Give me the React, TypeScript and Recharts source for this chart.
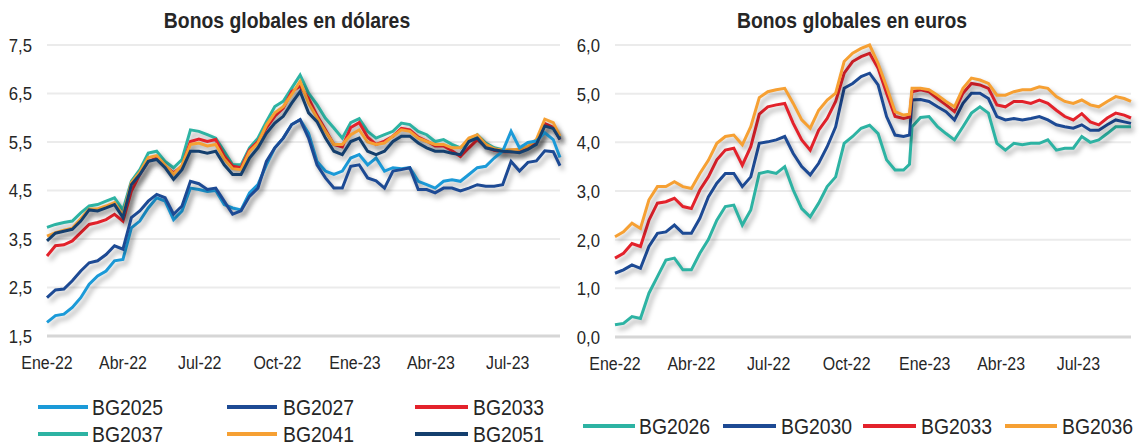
import React from 'react';
import { LineChart, Line, XAxis, YAxis, CartesianGrid } from 'recharts';

const FONT = "'Liberation Sans Narrow', 'Arial Narrow', 'Liberation Sans', Arial, sans-serif";

const tickDays = [0, 90, 181, 273, 365, 455, 546];
const tickLabels = ['Ene-22', 'Abr-22', 'Jul-22', 'Oct-22', 'Ene-23', 'Abr-23', 'Jul-23'];

const leftDays = [0,10,20,30,40,50,60,70,80,90,100,110,120,130,140,150,160,170,180,190,200,210,220,230,240,250,260,270,280,290,300,310,320,330,340,350,360,370,380,390,400,410,420,430,440,450,460,470,480,490,500,510,520,530,540,550,560,570,580,590,600,608];
const bg2025 = [1.78,1.92,1.95,2.09,2.29,2.57,2.74,2.84,3.05,3.08,3.73,3.87,4.14,4.35,4.28,3.90,4.08,4.55,4.52,4.48,4.50,4.21,4.14,4.10,4.45,4.62,5.03,5.38,5.58,5.86,5.96,5.68,5.10,4.90,4.83,4.90,5.17,5.24,5.03,5.17,4.90,4.97,4.95,4.97,4.69,4.62,4.55,4.69,4.72,4.69,4.83,4.97,5.00,5.17,5.31,5.72,5.38,5.49,5.52,5.69,5.55,5.18];
const bg2027 = [2.29,2.45,2.47,2.64,2.84,3.01,3.05,3.18,3.36,3.29,3.94,4.08,4.28,4.42,4.35,4.01,4.18,4.69,4.64,4.52,4.55,4.28,4.01,4.08,4.38,4.55,5.10,5.38,5.58,5.86,5.96,5.58,5.03,4.76,4.55,4.55,5.00,5.03,4.76,4.70,4.55,4.90,4.93,4.97,4.52,4.52,4.45,4.55,4.55,4.49,4.55,4.62,4.59,4.59,4.62,5.10,4.90,5.08,5.11,5.32,5.30,5.01];
const bg2033d = [3.15,3.36,3.38,3.46,3.63,3.80,3.84,3.90,4.01,3.87,4.49,4.83,5.10,5.17,5.00,4.86,5.00,5.51,5.56,5.51,5.55,5.21,5.00,4.97,5.34,5.51,5.79,6.03,6.20,6.54,6.65,6.40,6.05,5.75,5.45,5.40,5.80,5.90,5.60,5.45,5.52,5.62,5.78,5.75,5.60,5.52,5.42,5.42,5.32,5.20,5.38,5.55,5.40,5.33,5.30,5.30,5.30,5.38,5.50,5.88,5.80,5.55];
const bg2037 = [3.74,3.80,3.84,3.87,4.04,4.18,4.21,4.28,4.35,4.10,4.69,4.93,5.27,5.31,5.10,4.97,5.14,5.75,5.72,5.65,5.58,5.31,5.03,5.03,5.38,5.58,5.92,6.23,6.34,6.61,6.88,6.51,6.27,5.99,5.79,5.58,5.90,5.98,5.72,5.58,5.65,5.72,5.89,5.86,5.72,5.65,5.51,5.55,5.45,5.38,5.51,5.65,5.48,5.38,5.34,5.30,5.32,5.40,5.49,5.85,5.78,5.58];
const bg2041 = [3.56,3.63,3.68,3.72,3.92,4.12,4.12,4.18,4.25,3.98,4.66,4.88,5.18,5.22,5.02,4.84,5.02,5.45,5.48,5.42,5.45,5.15,4.95,4.93,5.30,5.48,5.85,6.10,6.23,6.48,6.75,6.30,6.00,5.72,5.45,5.45,5.65,5.75,5.50,5.45,5.48,5.62,5.75,5.72,5.58,5.51,5.45,5.45,5.38,5.38,5.58,5.65,5.45,5.36,5.33,5.34,5.35,5.42,5.55,5.97,5.90,5.62];
const bg2051 = [3.46,3.62,3.66,3.70,3.87,4.10,4.08,4.14,4.21,3.94,4.62,4.83,5.10,5.14,4.97,4.73,4.93,5.31,5.31,5.27,5.31,5.03,4.83,4.83,5.17,5.38,5.68,5.89,6.03,6.30,6.54,6.10,5.92,5.58,5.31,5.24,5.51,5.58,5.31,5.24,5.31,5.51,5.62,5.62,5.48,5.38,5.31,5.31,5.27,5.24,5.51,5.58,5.38,5.34,5.31,5.30,5.28,5.35,5.45,5.83,5.78,5.55];

const rightDays = [0,10,20,30,40,50,60,70,80,90,100,110,120,130,140,150,160,170,180,190,200,210,220,230,240,250,260,270,280,290,300,310,320,330,340,347,350,360,370,380,390,400,410,420,430,440,450,460,470,480,490,500,510,520,530,540,550,560,570,580,590,600,608];
const bg2026 = [0.25,0.28,0.42,0.38,0.90,1.24,1.58,1.62,1.38,1.38,1.72,2.00,2.40,2.68,2.71,2.30,2.61,3.36,3.40,3.36,3.50,3.02,2.64,2.47,2.75,3.09,3.29,3.98,4.12,4.29,4.35,4.18,3.64,3.43,3.43,3.55,4.32,4.51,4.53,4.32,4.18,4.05,4.32,4.60,4.73,4.60,3.98,3.84,3.98,3.95,3.98,3.98,4.05,3.84,3.88,3.88,4.12,4.00,4.05,4.18,4.32,4.32,4.32];
const bg2030 = [1.31,1.38,1.48,1.41,1.86,2.13,2.16,2.30,2.13,2.13,2.44,2.88,3.16,3.36,3.36,3.09,3.29,3.98,4.01,4.05,4.12,3.77,3.50,3.33,3.57,3.91,4.32,5.11,5.21,5.35,5.42,5.18,4.53,4.15,4.12,4.15,4.87,4.88,4.84,4.73,4.63,4.46,4.80,5.01,5.01,4.90,4.53,4.46,4.49,4.46,4.49,4.53,4.46,4.36,4.32,4.29,4.36,4.25,4.25,4.36,4.46,4.42,4.39];
const bg2033e = [1.62,1.72,1.92,1.86,2.40,2.75,2.78,2.85,2.68,2.64,3.02,3.29,3.64,3.84,3.88,3.53,3.91,4.58,4.73,4.77,4.80,4.39,4.05,3.84,4.25,4.49,4.84,5.42,5.66,5.76,5.83,5.52,5.01,4.53,4.49,4.52,5.04,5.08,5.04,4.90,4.77,4.63,5.01,5.21,5.18,5.11,4.77,4.73,4.84,4.84,4.80,4.87,4.80,4.66,4.53,4.46,4.59,4.42,4.36,4.50,4.60,4.56,4.50];
const bg2036 = [2.06,2.16,2.34,2.23,2.82,3.09,3.09,3.19,3.09,3.05,3.36,3.63,3.98,4.12,4.15,3.95,4.32,4.92,5.04,5.08,5.11,4.80,4.46,4.29,4.66,4.87,5.01,5.66,5.83,5.93,6.00,5.62,5.14,4.63,4.56,4.58,5.11,5.11,5.08,4.97,4.84,4.73,5.11,5.32,5.28,5.21,4.97,4.97,5.04,5.08,5.08,5.14,5.11,4.94,4.84,4.80,4.87,4.77,4.73,4.84,4.94,4.90,4.84];

const leftTicks = [1.5, 2.5, 3.5, 4.5, 5.5, 6.5, 7.5];
const rightTicks = [0, 1, 2, 3, 4, 5, 6];

const C = {
  lightBlue: '#1b9ad8',
  darkBlue: '#1d4a94',
  red: '#e3222b',
  teal: '#2db3a3',
  orange: '#f6a033',
  navy: '#143f6e',
};

const leftSeries = [
  { key: 'BG2037', color: C.teal, values: bg2037 },
  { key: 'BG2033', color: C.red, values: bg2033d },
  { key: 'BG2041', color: C.orange, values: bg2041 },
  { key: 'BG2025', color: C.lightBlue, values: bg2025 },
  { key: 'BG2027', color: C.darkBlue, values: bg2027 },
  { key: 'BG2051', color: C.navy, values: bg2051 },
];
const rightSeries = [
  { key: 'BG2026', color: C.teal, values: bg2026 },
  { key: 'BG2030', color: C.darkBlue, values: bg2030 },
  { key: 'BG2033', color: C.red, values: bg2033e },
  { key: 'BG2036', color: C.orange, values: bg2036 },
];

const leftData = leftDays.map((d, i) => {
  const row: Record<string, number> = { d };
  leftSeries.forEach((s) => { row[s.key] = s.values[i]; });
  return row;
});
const rightData = rightDays.map((d, i) => {
  const row: Record<string, number> = { d };
  rightSeries.forEach((s) => { row[s.key] = s.values[i]; });
  return row;
});

const fmtY = (v: number) => v.toFixed(1).replace('.', ',');
const fmtX = (v: number) => tickLabels[tickDays.indexOf(v)] ?? '';

function NarrowText({ x, y, anchor = 'start', size, weight = 'normal', sx = 0.83, dy = '0.36em', children }: any) {
  return (
    <text transform={`translate(${x},${y}) scale(${sx},1)`} x={0} y={0} dy={dy} textAnchor={anchor}
      fontFamily={FONT} fontSize={size} fontWeight={weight} fill="#262626">{children}</text>
  );
}

const XTick = (p: any) => (
  <NarrowText x={p.x} y={p.y} anchor="middle" size={19} sx={0.84} dy="0.71em">{fmtX(p.payload.value)}</NarrowText>
);
const YTick = (p: any) => (
  <NarrowText x={p.x} y={p.y} anchor="end" size={19} sx={0.88} dy="0.36em">{fmtY(p.payload.value)}</NarrowText>
);

type LegendItem = { label: string; color: string; x: number; y: number; textX: number; lineEnd: number };

const leftLegend: LegendItem[] = [
  { label: 'BG2025', color: C.lightBlue, x: 38, lineEnd: 88, textX: 92, y: 407 },
  { label: 'BG2027', color: C.darkBlue, x: 227, lineEnd: 277, textX: 283, y: 407 },
  { label: 'BG2033', color: C.red, x: 415, lineEnd: 468, textX: 473, y: 407 },
  { label: 'BG2037', color: C.teal, x: 38, lineEnd: 88, textX: 92, y: 434 },
  { label: 'BG2041', color: C.orange, x: 227, lineEnd: 277, textX: 283, y: 434 },
  { label: 'BG2051', color: C.navy, x: 415, lineEnd: 468, textX: 473, y: 434 },
];
const rightLegend: LegendItem[] = [
  { label: 'BG2026', color: C.teal, x: 583, lineEnd: 635, textX: 639, y: 426 },
  { label: 'BG2030', color: C.darkBlue, x: 723, lineEnd: 776, textX: 781, y: 426 },
  { label: 'BG2033', color: C.red, x: 863, lineEnd: 916, textX: 921, y: 426 },
  { label: 'BG2036', color: C.orange, x: 1005, lineEnd: 1057, textX: 1062, y: 426 },
];

function LegendSvg({ items }: { items: LegendItem[] }) {
  return (
    <g>
      {items.map((it) => (
        <g key={it.label + it.x + it.y}>
          <line x1={it.x} x2={it.lineEnd} y1={it.y} y2={it.y} stroke={it.color} strokeWidth={4} />
          <NarrowText x={it.textX} y={it.y} size={22} sx={0.88}>{it.label}</NarrowText>
        </g>
      ))}
    </g>
  );
}

export default function App() {
  return (
    <div style={{ position: 'absolute', left: 0, top: 0, width: 1141, height: 448, background: '#fff', overflow: 'hidden' }}>
      <style>{`.shadowed .recharts-line-curve { filter: drop-shadow(3px 4px 2.5px rgba(0,0,0,0.33)); }`}</style>
      <div className="shadowed" style={{ position: 'absolute', left: 0, top: 0 }}>
        <LineChart width={570} height={448} data={leftData} margin={{ top: 45, right: 10, bottom: 72, left: 0 }}>
          <CartesianGrid vertical={false} stroke="#ebebeb" strokeWidth={2} />
          <XAxis dataKey="d" type="number" domain={[0, 608]} ticks={tickDays} interval={0}
            tickLine={false} tickSize={0} tickMargin={19} height={40} axisLine={{ stroke: '#d6d6d6', strokeWidth: 3 }} tick={XTick} />
          <YAxis type="number" domain={[1.5, 7.5]} ticks={leftTicks} interval={0}
            tickLine={false} tickSize={0} tickMargin={15} width={47} axisLine={false} tick={YTick} />
          {leftSeries.map((s) => (
            <Line key={s.key} dataKey={s.key} stroke={s.color} strokeWidth={3} dot={false} isAnimationActive={false} type="linear" />
          ))}
        </LineChart>
      </div>
      <div className="shadowed" style={{ position: 'absolute', left: 570, top: 0 }}>
        <LineChart width={571} height={448} data={rightData} margin={{ top: 45, right: 10, bottom: 71, left: 0 }}>
          <CartesianGrid vertical={false} stroke="#ebebeb" strokeWidth={2} />
          <XAxis dataKey="d" type="number" domain={[0, 608]} ticks={tickDays} interval={0}
            tickLine={false} tickSize={0} tickMargin={19} height={40} axisLine={{ stroke: '#d6d6d6', strokeWidth: 3 }} tick={XTick} />
          <YAxis type="number" domain={[0, 6]} ticks={rightTicks} interval={0}
            tickLine={false} tickSize={0} tickMargin={15} width={45} axisLine={false} tick={YTick} />
          {rightSeries.map((s) => (
            <Line key={s.key} dataKey={s.key} stroke={s.color} strokeWidth={3} dot={false} isAnimationActive={false} type="linear" />
          ))}
        </LineChart>
      </div>
      <svg width={1141} height={448} style={{ position: 'absolute', left: 0, top: 0, pointerEvents: 'none' }}>
        <NarrowText x={287} y={20} anchor="middle" size={22} weight="bold" sx={0.88}>Bonos globales en dólares</NarrowText>
        <NarrowText x={852} y={20} anchor="middle" size={22} weight="bold" sx={0.88}>Bonos globales en euros</NarrowText>
        <LegendSvg items={leftLegend} />
        <LegendSvg items={rightLegend} />
      </svg>
    </div>
  );
}
